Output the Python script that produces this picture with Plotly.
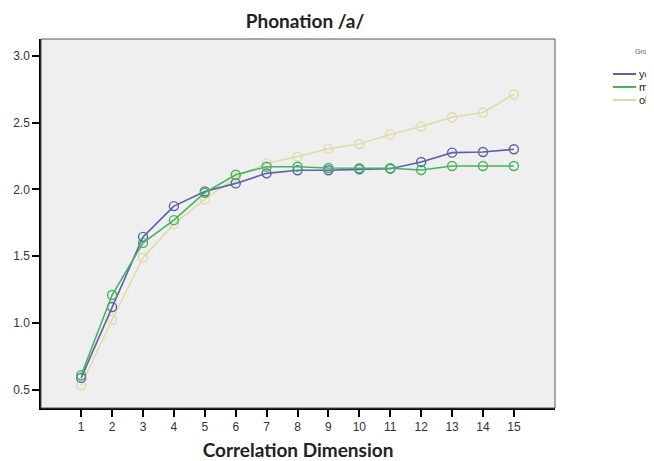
import plotly.graph_objects as go

dims = list(range(1, 16))
young = [0.59, 1.12, 1.645, 1.875, 1.985, 2.045, 2.12, 2.143, 2.143, 2.15, 2.155, 2.205, 2.275, 2.28, 2.30]
middle = [0.61, 1.21, 1.60, 1.77, 1.975, 2.11, 2.17, 2.17, 2.16, 2.158, 2.158, 2.145, 2.175, 2.175, 2.175]
old = [0.535, 1.025, 1.49, 1.74, 1.925, 2.09, 2.195, 2.245, 2.305, 2.34, 2.41, 2.47, 2.54, 2.575, 2.71]

group_names = ["young", "middle", "old"]
legend_title = "Group"
y_ticks = [0.5, 1.0, 1.5, 2.0, 2.5, 3.0]

colors = {"young": "#5a62ac", "middle": "#45b45e", "old": "#e0dcaa"}
series = {"young": young, "middle": middle, "old": old}

fig = go.Figure()
for name in ["old", "young", "middle"]:
    fig.add_trace(go.Scatter(
        x=dims, y=series[name], mode="lines+markers", name=name,
        line=dict(color=colors[name], width=1.6),
        marker=dict(symbol="circle-open", size=9, color=colors[name], line=dict(width=1.4)),
        showlegend=False,
    ))

# page body has an 8px default margin; compensate so the photo matches
OFF = 8
W, H = 654 - OFF, 461 - OFF
L, R, T, B = 41 - OFF, 99, 39 - OFF, 53
pw, ph = W - L - R, H - T - B

def px_x(px):
    return (px - OFF - L) / pw

def px_y(py):
    return (H - B - (py - OFF)) / ph

shapes = [dict(type="rect", xref="paper", yref="paper", x0=0, x1=1, y0=0, y1=1,
               line=dict(color="#555555", width=1), layer="above")]
annotations = [dict(text=legend_title, xref="paper", yref="paper", x=px_x(633), y=px_y(52),
                    xanchor="left", yanchor="middle", showarrow=False,
                    font=dict(family="Liberation Sans", size=7, color="#555555"))]
for i, name in enumerate(group_names):
    yy = px_y(74 + i * 13)
    shapes.append(dict(type="line", xref="paper", yref="paper", x0=px_x(613), x1=px_x(636),
                       y0=yy, y1=yy, line=dict(color=colors[name], width=2)))
    annotations.append(dict(text=name, xref="paper", yref="paper", x=px_x(637), y=yy,
                            xanchor="left", yanchor="middle", showarrow=False,
                            font=dict(family="Liberation Sans", size=11, color="#222222")))

fig.update_layout(
    width=W, height=H,
    margin=dict(l=L, r=R, t=T, b=B, autoexpand=False),
    paper_bgcolor="white", plot_bgcolor="#efefef",
    title=dict(text="<b>Phonation /a/</b>", x=(305 - OFF) / W, y=1 - (21 - OFF) / H,
               xanchor="center", yanchor="middle",
               font=dict(family="Lato", size=19, color="#222222")),
    shapes=shapes, annotations=annotations,
    showlegend=False,
)
fig.update_xaxes(
    range=[-0.3, 16.33], tickvals=dims, ticktext=[str(d) for d in dims],
    showgrid=False, zeroline=False, showline=True, linecolor="black", linewidth=1.5,
    ticks="outside", ticklen=7, tickwidth=1.5, tickcolor="black",
    tickfont=dict(family="Liberation Sans", size=12, color="#333333"),
    title=dict(text="<b>Correlation Dimension</b>", standoff=11,
               font=dict(family="Lato", size=19, color="#222222")),
)
fig.update_yaxes(
    range=[0.365, 3.125], tickvals=y_ticks, ticktext=[f"{v:.1f}" for v in y_ticks],
    showgrid=False, zeroline=False, showline=True, linecolor="black", linewidth=1.5,
    ticks="outside", ticklen=7, tickwidth=1.5, tickcolor="black",
    tickfont=dict(family="Liberation Sans", size=12, color="#333333"),
)

fig.write_html("out.html")
